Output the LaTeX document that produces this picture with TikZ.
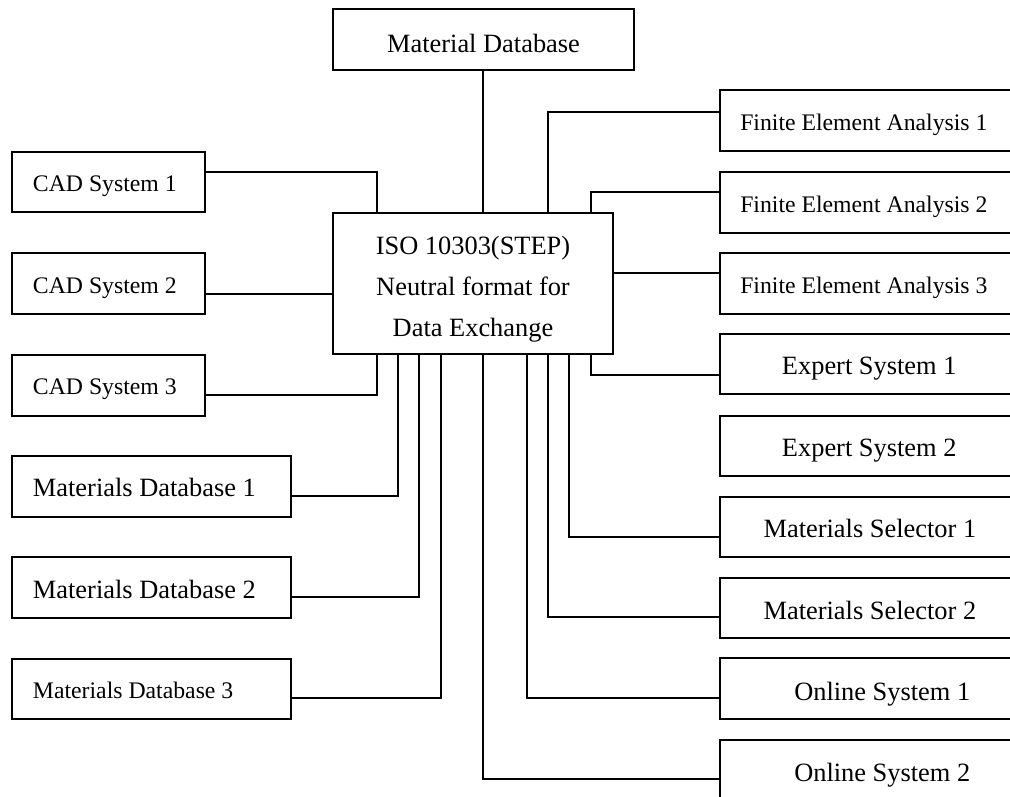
\documentclass[tikz,border=0pt]{standalone}
\usepackage{fontspec}
\setmainfont{Liberation Serif}
\tikzset{
  box/.style={draw, line width=1.5pt, inner sep=0pt, outer sep=0pt, anchor=north west},
  sz/.style 2 args={minimum width=#1*0.75pt, minimum height=#2*0.75pt},
  link/.style={draw, line width=1.5pt},
  bigtxt/.style={font=\fontsize{19.8}{24}\selectfont, inner sep=0pt, anchor=base west},
  smalltxt/.style={font=\fontsize{17.8}{22}\selectfont, inner sep=0pt, anchor=base west},
  bigc/.style={font=\fontsize{19.8}{24}\selectfont, inner sep=0pt, anchor=base}
}
\begin{document}
\begin{tikzpicture}[x=0.75pt,y=-0.75pt]
\useasboundingbox (0,0) rectangle (1010,796);
\clip (0,0) rectangle (1010,796);
\fill[white] (0,0) rectangle (1010,796);

% boxes
\node[box, sz={301}{61}] (matdb) at (333,9) {};
\node[box, sz={280}{141}] (center) at (333,213) {};
\node[box, sz={193}{60}] (cad1) at (12,152) {};
\node[box, sz={193}{61}] (cad2) at (12,253) {};
\node[box, sz={193}{61}] (cad3) at (12,355) {};
\node[box, sz={279}{61}] (mdb1) at (12,456) {};
\node[box, sz={279}{61}] (mdb2) at (12,557) {};
\node[box, sz={279}{60}] (mdb3) at (12,659) {};
\node[box, sz={310}{61}] (fea1) at (720,90) {};
\node[box, sz={310}{61}] (fea2) at (720,172) {};
\node[box, sz={310}{61}] (fea3) at (720,253) {};
\node[box, sz={310}{60}] (exp1) at (720,334) {};
\node[box, sz={310}{60}] (exp2) at (720,416) {};
\node[box, sz={310}{60}] (sel1) at (720,497) {};
\node[box, sz={310}{60}] (sel2) at (720,578) {};
\node[box, sz={310}{61}] (onl1) at (720,658) {};
\node[box, sz={310}{60}] (onl2) at (720,740) {};

% texts
\node[bigc] (tmatdb) at (483.5,52) {Material Database};
\node[bigc] (iso1) at (473,254.3) {ISO 10303(STEP)};
\node[bigc] (iso2) at (473,295) {Neutral format for};
\node[bigc] (iso3) at (473,336.5) {Data Exchange};
\node[smalltxt] (tcad1) at (32.7,191.7) {CAD System 1};
\node[smalltxt] (tcad2) at (32.7,293.5) {CAD System 2};
\node[smalltxt] (tcad3) at (32.7,394.8) {CAD System 3};
\node[bigtxt] (tmdb1) at (32.7,496.7) {Materials Database 1};
\node[bigtxt] (tmdb2) at (32.7,598) {Materials Database 2};
\node[smalltxt] (tmdb3) at (32.7,698.3) {Materials Database 3};
\node[smalltxt] (tfea1) at (740,130.7) {Finite Element Analysis 1};
\node[smalltxt] (tfea2) at (740,212) {Finite Element Analysis 2};
\node[smalltxt] (tfea3) at (740,293) {Finite Element Analysis 3};
\node[bigtxt] (texp1) at (781.7,374.3) {Expert System 1};
\node[bigtxt] (texp2) at (781.7,456.5) {Expert System 2};
\node[bigtxt] (tsel1) at (763.3,537.5) {Materials Selector 1};
\node[bigtxt] (tsel2) at (763.3,619) {Materials Selector 2};
\node[bigtxt] (tonl1) at (794,700.7) {Online System 1};
\node[bigtxt] (tonl2) at (794,781.2) {Online System 2};

% connectors
\draw[link] (matdb.south -| 483,0) -- (center.north -| 483,0);
\draw[link] (cad1.east |- 0,172) -| (center.north -| 377,0);
\draw[link] (cad2.east |- 0,294) -- (center.west |- 0,294);
\draw[link] (cad3.east |- 0,395) -| (center.south -| 377,0);
\draw[link] (mdb1.east |- 0,496) -| (center.south -| 398,0);
\draw[link] (mdb2.east |- 0,597) -| (center.south -| 419,0);
\draw[link] (mdb3.east |- 0,698) -| (center.south -| 441,0);
\draw[link] (center.north -| 548,0) |- (fea1.west |- 0,112);
\draw[link] (center.north -| 591,0) |- (fea2.west |- 0,192);
\draw[link] (center.east |- 0,273) -- (fea3.west |- 0,273);
\draw[link] (center.south -| 591,0) |- (exp1.west |- 0,375);
\draw[link] (center.south -| 569,0) |- (sel1.west |- 0,537);
\draw[link] (center.south -| 548,0) |- (sel2.west |- 0,617);
\draw[link] (center.south -| 527,0) |- (onl1.west |- 0,698);
\draw[link] (center.south -| 483,0) |- (onl2.west |- 0,779);
\end{tikzpicture}
\end{document}
